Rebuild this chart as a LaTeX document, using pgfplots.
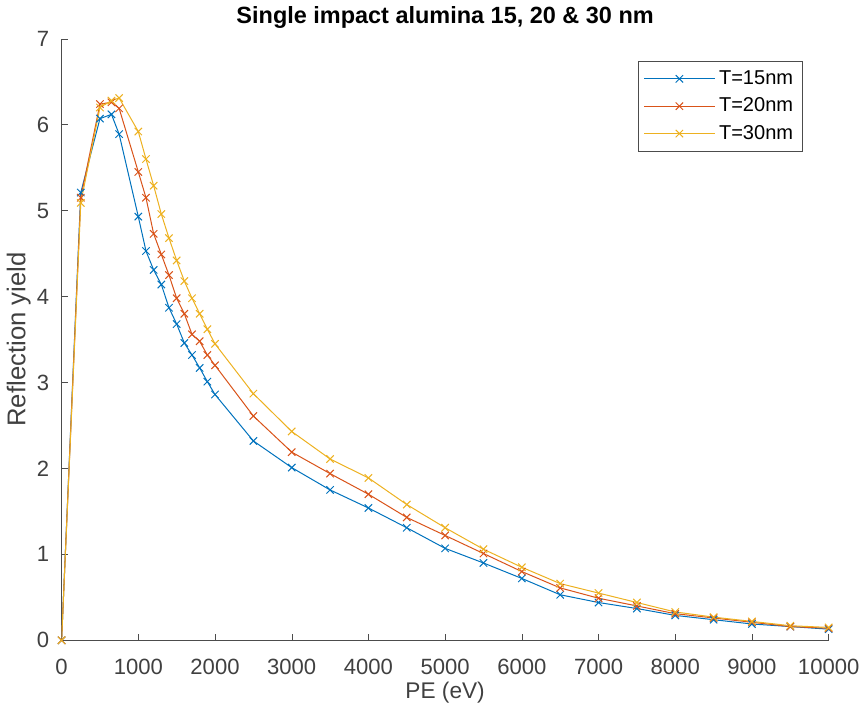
\documentclass[border=0pt]{standalone}
\usepackage{pgfplots}
\pgfplotsset{compat=1.18}
\usepackage{fontspec}
\setmainfont{Liberation Sans}
\definecolor{mblue}{rgb}{0,0.447,0.741}
\definecolor{morange}{rgb}{0.85,0.325,0.098}
\definecolor{myellow}{rgb}{0.929,0.694,0.125}
\begin{document}
\begin{tikzpicture}
\begin{axis}[
  scale only axis,
  width=382.5pt, height=300pt,
  xmin=0, xmax=10000, ymin=0, ymax=7,
  axis x line*=bottom, axis y line*=left,
  xtick={0,1000,...,10000}, ytick={0,1,...,7},
  tick align=inside,
  major tick length=3pt,
  tick style={black!70},
  scaled x ticks=false,
  /pgf/number format/assume math mode=true,
  xticklabel shift=6pt,
  xticklabel style={/pgf/number format/set thousands separator={}, font=\fontsize{11}{12}\selectfont, color=black!75},
  yticklabel style={font=\fontsize{11}{12}\selectfont, color=black!75, xshift=-2.7pt},
  xlabel={PE (eV)}, ylabel={Reflection yield},
  xlabel style={font=\fontsize{11.3}{12}\selectfont, color=black!75, at={(axis description cs:0.5,-0.0867)}, anchor=center},
  ylabel style={font=\fontsize{12.8}{14}\selectfont, color=black!75, at={(axis description cs:-0.056,0.5)}, anchor=center},
  every axis title shift=0pt,
  title={\textbf{Single impact alumina 15, 20 \& 30 nm}},
  title style={font=\fontsize{11.7}{13}\selectfont, at={(axis description cs:0.5,1.035)}, anchor=center},
  axis line style={black!70, line width=0.4pt},
  legend style={at={(0.966,0.963)}, anchor=north east, font=\fontsize{10}{12}\selectfont, draw=black!70, line width=0.4pt, inner sep=2.5pt, row sep=1.2pt},
  legend cell align=left,
  legend image code/.code={\draw[mark repeat=2, mark phase=2] plot coordinates {(0pt,0pt) (17.5pt,0pt) (35pt,0pt)};},
  every axis plot/.append style={line width=0.5pt, mark=x, mark size=2.6pt},
]
\addplot[color=mblue] coordinates {
(0,0) (250,5.21) (500,6.07) (650,6.12) (750,5.89) (1000,4.93) (1100,4.53) (1200,4.31) (1300,4.14) (1400,3.87) (1500,3.68) (1600,3.46) (1700,3.32) (1800,3.17) (1900,3.01) (2000,2.86) (2500,2.32) (3000,2.01) (3500,1.75) (4000,1.54) (4500,1.31) (5000,1.07) (5500,0.90) (6000,0.72) (6500,0.53) (7000,0.44) (7500,0.37) (8000,0.29) (8500,0.24) (9000,0.19) (9500,0.16) (10000,0.13)};
\addlegendentry{T=15nm}
\addplot[color=morange] coordinates {
(0,0) (250,5.15) (500,6.24) (650,6.26) (750,6.19) (1000,5.45) (1100,5.15) (1200,4.73) (1300,4.49) (1400,4.25) (1500,3.98) (1600,3.80) (1700,3.56) (1800,3.48) (1900,3.32) (2000,3.20) (2500,2.61) (3000,2.19) (3500,1.94) (4000,1.70) (4500,1.43) (5000,1.22) (5500,1.01) (6000,0.80) (6500,0.61) (7000,0.49) (7500,0.40) (8000,0.31) (8500,0.26) (9000,0.21) (9500,0.16) (10000,0.14)};
\addlegendentry{T=20nm}
\addplot[color=myellow] coordinates {
(0,0) (250,5.09) (500,6.20) (650,6.28) (750,6.31) (1000,5.92) (1100,5.60) (1200,5.29) (1300,4.96) (1400,4.68) (1500,4.42) (1600,4.18) (1700,3.98) (1800,3.80) (1900,3.62) (2000,3.45) (2500,2.87) (3000,2.43) (3500,2.11) (4000,1.89) (4500,1.58) (5000,1.31) (5500,1.06) (6000,0.85) (6500,0.66) (7000,0.55) (7500,0.44) (8000,0.33) (8500,0.27) (9000,0.22) (9500,0.17) (10000,0.15)};
\addlegendentry{T=30nm}
\end{axis}
\end{tikzpicture}
\end{document}
